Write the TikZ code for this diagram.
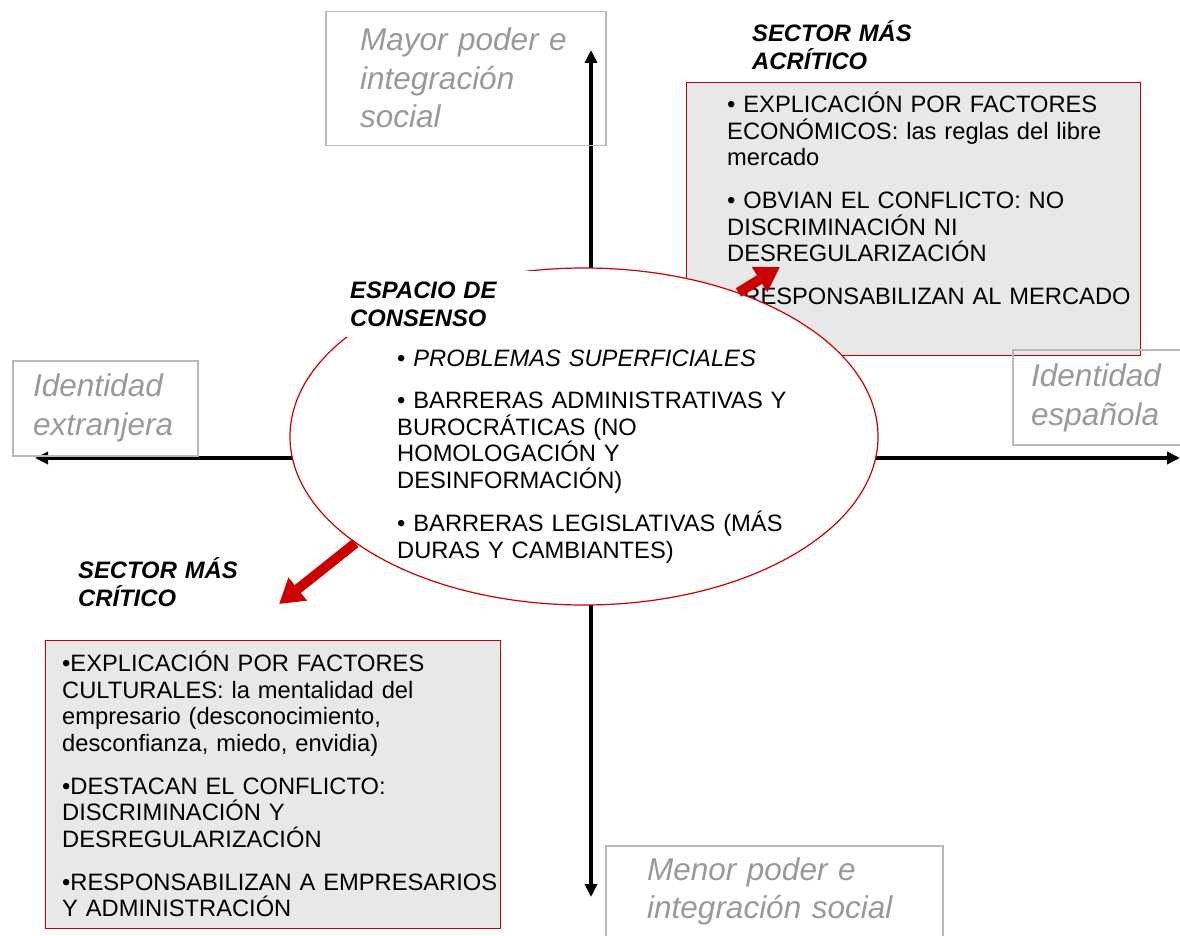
\documentclass[tikz,border=0pt]{standalone}
\usepackage{fontspec}
\setmainfont{Liberation Sans}
\usetikzlibrary{arrows.meta,shapes.geometric}
\definecolor{rojo}{RGB}{204,0,0}
\definecolor{gris}{RGB}{232,232,232}
\definecolor{grisletra}{RGB}{153,153,153}
\definecolor{grismarco}{RGB}{185,185,185}

\begin{document}
\begin{tikzpicture}[x=1pt,y=-1pt,
    eje/.style={line width=4pt,{Triangle[width=12pt,length=13pt]}-{Triangle[width=12pt,length=13pt]}},
    marco/.style={draw=grismarco,line width=1.5pt,anchor=north west,inner sep=0pt},
    polo/.style={text=grisletra,font=\fontsize{31.5}{38.6}\selectfont\itshape,anchor=base west,inner sep=0pt,align=left},
    caja/.style={draw=rojo,fill=gris,line width=1.2pt,anchor=north west,inner sep=0pt},
    texto/.style={font=\fontsize{23.7}{26.5}\selectfont,anchor=base west,inner sep=0pt,align=left},
    sector/.style={font=\fontsize{23.8}{28}\selectfont\bfseries\itshape,anchor=base west,inner sep=0pt,align=left},
    flecha/.style={draw=rojo,line width=10pt,-{Triangle[width=28pt,length=24pt]}}]
    \useasboundingbox (0,0) rectangle (1180,936);

    \coordinate (arriba) at (591,50);
    \coordinate (abajo) at (591,897);
    \coordinate (izq) at (35,458);
    \coordinate (der) at (1180,458);
    \draw[eje] (abajo) -- (arriba);
    \draw[eje] (izq) -- (der);

    \node[caja,minimum width=454pt,minimum height=273pt] (cajaA) at (686,82) {};
    \node[texto,text width=420pt] (acritico) at (727,112.7) {• EXPLICACIÓN POR FACTORES\\ ECONÓMICOS: las reglas del libre\\ mercado\\[16.5pt] • OBVIAN EL CONFLICTO: NO\\ DISCRIMINACIÓN NI\\ DESREGULARIZACIÓN\\[16.5pt] • RESPONSABILIZAN AL MERCADO};
    \node[caja,minimum width=455pt,minimum height=288pt] (cajaC) at (45,640) {};
    \node[texto,text width=460pt] (critico) at (62,671.5) {•EXPLICACIÓN POR FACTORES\\ CULTURALES: la mentalidad del\\ empresario (desconocimiento,\\ desconfianza, miedo, envidia)\\[16.5pt] •DESTACAN EL CONFLICTO:\\ DISCRIMINACIÓN Y\\ DESREGULARIZACIÓN\\[16.5pt] •RESPONSABILIZAN A EMPRESARIOS\\ Y ADMINISTRACIÓN};

    \node[marco,minimum width=280pt,minimum height=134pt] (fmayor) at (325,11) {};
    \node[marco,minimum width=185pt,minimum height=95pt] (fextranjera) at (12,360) {};
    \node[marco,minimum width=200pt,minimum height=95pt] (fespanola) at (1012,349) {};
    \node[marco,minimum width=337pt,minimum height=110pt] (fmenor) at (605,845) {};
    \node[polo,text width=240pt] (mayor) at (360,50.7) {Mayor poder e\\ integración\\ social};
    \node[polo,text width=170pt] (extranjera) at (33,396.7) {Identidad\\ extranjera};
    \node[polo,text width=150pt] (espanola) at (1031,386.7) {Identidad\\ española};
    \node[polo,text width=290pt] (menor) at (647,880) {Menor poder e\\ integración social};

    \node[draw=rojo,fill=white,ellipse,line width=1.2pt,minimum width=588pt,minimum height=337pt,inner sep=0pt] (consenso) at (584,436.5) {};
    \node[texto,text width=430pt] (problemas) at (397,366.5) {• \textit{PROBLEMAS SUPERFICIALES}\\[15.5pt] • BARRERAS ADMINISTRATIVAS Y\\ BUROCRÁTICAS (NO\\ HOMOLOGACIÓN Y\\ DESINFORMACIÓN)\\[17pt] • BARRERAS LEGISLATIVAS (MÁS\\ DURAS Y CAMBIANTES)};

    \coordinate (puntaA) at (780,267);
    \coordinate (puntaC) at (279,604);
    \draw[flecha] (consenso.43.5) -- (puntaA);
    \draw[flecha] (consenso.205.8) -- (puntaC);

    \node[sector,fill=white,inner xsep=5pt,inner ysep=10.5pt,text width=203pt] (espacio) at (345,298.5) {ESPACIO DE\\ CONSENSO};
    \node[sector,text width=200pt] (sectorA) at (752,41.5) {SECTOR MÁS\\ ACRÍTICO};
    \node[sector,text width=200pt] (sectorC) at (78,578.5) {SECTOR MÁS\\ CRÍTICO};
\end{tikzpicture}
\end{document}
